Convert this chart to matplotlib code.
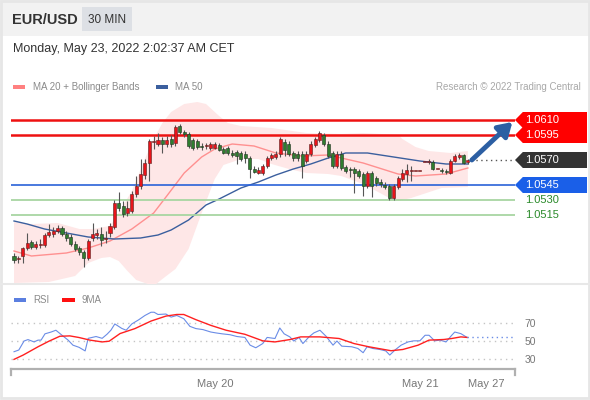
import numpy as np
import matplotlib.pyplot as plt
from matplotlib.patches import Rectangle, Polygon

plt.rcParams['font.family'] = ['Liberation Sans', 'DejaVu Sans']

# EUR/USD 30 min candles, oldest first
opens = [1.0474, 1.0471, 1.0474, 1.0482, 1.0488, 1.0483, 1.0485, 1.0485, 1.0495, 1.0496,
         1.0499, 1.0502, 1.0496, 1.0493, 1.0486, 1.0482, 1.0478, 1.0472, 1.0492, 1.0495,
         1.0496, 1.0491, 1.0497, 1.0503, 1.0527, 1.0524, 1.0517, 1.0519, 1.0536, 1.0544,
         1.0555, 1.0567, 1.0588, 1.0586, 1.0590, 1.0586, 1.0591, 1.0587, 1.0604, 1.0598,
         1.0596, 1.0590, 1.0589, 1.0584, 1.0584, 1.0582, 1.0582, 1.0585, 1.0581, 1.0582,
         1.0577, 1.0578, 1.0577, 1.0576, 1.0572, 1.0561, 1.0557, 1.0557, 1.0564, 1.0572,
         1.0573, 1.0576, 1.0588, 1.0586, 1.0577, 1.0576, 1.0576, 1.0569, 1.0576, 1.0585,
         1.0590, 1.0595, 1.0586, 1.0577, 1.0564, 1.0576, 1.0563, 1.0561, 1.0561, 1.0559,
         1.0556, 1.0544, 1.0557, 1.0552, 1.0548, 1.0545, 1.0544, 1.0532, 1.0543, 1.0551,
         1.0556, 1.0559, 1.0559, 1.0559, 1.0568, 1.0568, 1.0568, 1.0561, 1.0560, 1.0559,
         1.0557, 1.0569, 1.0573, 1.0575, 1.0568]
highs = [1.0477, 1.0474, 1.0483, 1.0497, 1.0490, 1.0489, 1.0491, 1.0497, 1.0506, 1.0503,
         1.0505, 1.0504, 1.0499, 1.0496, 1.0489, 1.0484, 1.0480, 1.0491, 1.0507, 1.0501,
         1.0503, 1.0499, 1.0507, 1.0530, 1.0538, 1.0529, 1.0529, 1.0539, 1.0554, 1.0571,
         1.0571, 1.0591, 1.0594, 1.0597, 1.0593, 1.0594, 1.0595, 1.0605, 1.0606, 1.0600,
         1.0598, 1.0592, 1.0591, 1.0587, 1.0587, 1.0588, 1.0588, 1.0587, 1.0583, 1.0584,
         1.0580, 1.0580, 1.0579, 1.0579, 1.0574, 1.0564, 1.0563, 1.0566, 1.0574, 1.0577,
         1.0579, 1.0593, 1.0591, 1.0589, 1.0579, 1.0579, 1.0579, 1.0579, 1.0589, 1.0593,
         1.0599, 1.0597, 1.0589, 1.0579, 1.0579, 1.0579, 1.0565, 1.0563, 1.0563, 1.0561,
         1.0558, 1.0559, 1.0559, 1.0554, 1.0551, 1.0548, 1.0546, 1.0546, 1.0554, 1.0561,
         1.0566, 1.0564, 1.0559, 1.0559, 1.0568, 1.0571, 1.0570, 1.0561, 1.0562, 1.0561,
         1.0571, 1.0576, 1.0577, 1.0576, 1.0571]
lows = [1.0467, 1.0467, 1.0467, 1.0480, 1.0481, 1.0481, 1.0482, 1.0483, 1.0493, 1.0493,
        1.0497, 1.0494, 1.0489, 1.0484, 1.0479, 1.0475, 1.0463, 1.0470, 1.0489, 1.0491,
        1.0484, 1.0487, 1.0493, 1.0501, 1.0519, 1.0513, 1.0514, 1.0517, 1.0533, 1.0541,
        1.0551, 1.0549, 1.0581, 1.0584, 1.0577, 1.0583, 1.0583, 1.0584, 1.0596, 1.0593,
        1.0582, 1.0580, 1.0581, 1.0580, 1.0581, 1.0580, 1.0581, 1.0579, 1.0576, 1.0575,
        1.0573, 1.0566, 1.0569, 1.0567, 1.0552, 1.0557, 1.0556, 1.0555, 1.0562, 1.0570,
        1.0571, 1.0573, 1.0574, 1.0574, 1.0569, 1.0569, 1.0552, 1.0567, 1.0574, 1.0583,
        1.0588, 1.0584, 1.0572, 1.0562, 1.0562, 1.0560, 1.0557, 1.0553, 1.0537, 1.0552,
        1.0534, 1.0542, 1.0533, 1.0544, 1.0543, 1.0541, 1.0530, 1.0530, 1.0541, 1.0549,
        1.0548, 1.0549, 1.0559, 1.0559, 1.0568, 1.0566, 1.0560, 1.0561, 1.0557, 1.0556,
        1.0556, 1.0568, 1.0571, 1.0566, 1.0566]
closes = [1.0470, 1.0472, 1.0482, 1.0487, 1.0483, 1.0486, 1.0486, 1.0495, 1.0498, 1.0499,
          1.0502, 1.0496, 1.0492, 1.0486, 1.0481, 1.0478, 1.0472, 1.0489, 1.0496, 1.0497,
          1.0490, 1.0492, 1.0504, 1.0527, 1.0522, 1.0516, 1.0522, 1.0536, 1.0544, 1.0556,
          1.0567, 1.0589, 1.0589, 1.0590, 1.0586, 1.0590, 1.0586, 1.0603, 1.0598, 1.0596,
          1.0584, 1.0582, 1.0583, 1.0583, 1.0584, 1.0586, 1.0586, 1.0580, 1.0577, 1.0577,
          1.0575, 1.0574, 1.0571, 1.0572, 1.0561, 1.0558, 1.0560, 1.0564, 1.0572, 1.0575,
          1.0576, 1.0591, 1.0580, 1.0576, 1.0572, 1.0572, 1.0564, 1.0576, 1.0586, 1.0591,
          1.0597, 1.0586, 1.0574, 1.0564, 1.0576, 1.0562, 1.0559, 1.0560, 1.0557, 1.0554,
          1.0544, 1.0557, 1.0544, 1.0547, 1.0546, 1.0543, 1.0532, 1.0544, 1.0552, 1.0557,
          1.0560, 1.0559, 1.0559, 1.0559, 1.0568, 1.0569, 1.0561, 1.0561, 1.0559, 1.0558,
          1.0569, 1.0574, 1.0575, 1.0567, 1.0570]

# moving averages / Bollinger bands, sampled at candle index
ma50_t = [0, 3, 7, 12, 17, 23, 29, 33, 36, 40, 44, 47, 52, 56, 60, 64, 68, 72, 76, 81, 87, 93, 99, 104]
ma50 = [1.0509, 1.0506, 1.0501, 1.0497, 1.0493, 1.0491, 1.0492, 1.0495, 1.0500, 1.0510, 1.0525, 1.0531,
        1.0542, 1.0548, 1.0555, 1.0561, 1.0566, 1.0572, 1.0577, 1.0577, 1.0573, 1.0569, 1.0566, 1.0566]
ma20_t = [0, 4, 12, 17, 22, 27, 32, 35, 39, 43, 46, 50, 55, 60, 66, 72, 80, 88, 92, 99, 104]
ma20 = [1.0479, 1.0474, 1.0477, 1.0482, 1.0489, 1.0501, 1.0517, 1.0534, 1.0557, 1.0573, 1.0581,
        1.0586, 1.0584, 1.0577, 1.0574, 1.0575, 1.0567, 1.0556, 1.0554, 1.0556, 1.0562]
bb_up_t = [0, 4, 10, 15, 18, 22, 24, 27, 30, 32, 34, 36, 39, 42, 44, 47, 49, 52, 59, 67, 75, 80,
           88, 89, 92, 95, 100, 104]
bb_up = [1.0508, 1.0506, 1.0507, 1.0501, 1.0501, 1.0504, 1.0517, 1.0539, 1.0571, 1.0591, 1.0607,
         1.0618, 1.0626, 1.0628, 1.0626, 1.0614, 1.0607, 1.0604, 1.0602, 1.0597, 1.0596, 1.0597,
         1.0595, 1.0591, 1.0583, 1.0579, 1.0577, 1.0579]
bb_lo_t = [0, 8, 14, 17, 20, 22, 24, 26, 28, 32, 34, 37, 40, 43, 46, 48, 52, 56, 59, 63, 67, 72,
           75, 80, 86, 88, 91, 98, 104]
bb_lo = [1.0447, 1.0448, 1.0454, 1.0467, 1.0472, 1.0473, 1.0469, 1.0459, 1.0450, 1.0444, 1.0451,
         1.0461, 1.0481, 1.0517, 1.0551, 1.0565, 1.0571, 1.0571, 1.0566, 1.0561, 1.0557, 1.0556,
         1.0554, 1.0546, 1.0532, 1.0529, 1.0532, 1.0542, 1.0543]

# key levels
resistances = [1.0610, 1.0595]
supports = [1.0545, 1.0530, 1.0515]
last_price = 1.0570

# RSI and its 9MA
rsi_t = [0.0, 1.1, 2.3, 3.2, 4.6, 5.5, 6.2, 7.1, 8.5, 9.6, 11.0, 12.4, 13.5, 14.9, 16.3, 17.0, 18.8,
         20.2, 21.3, 22.2, 23.1, 24.7, 25.7, 27.0, 28.6, 30.0, 31.4, 32.1, 33.0, 34.8, 36.0, 37.3,
         38.9, 40.3, 41.7, 43.3, 45.1, 46.3, 47.7, 49.5, 51.1, 52.9, 54.1, 55.4, 57.0, 58.0, 59.8,
         60.9, 61.9, 63.2, 64.1, 65.3, 66.2, 67.6, 68.7, 70.1, 71.5, 73.1, 74.0, 75.1, 77.4, 78.8,
         80.0, 80.9, 82.2, 83.8, 85.2, 86.1, 87.3, 88.7, 90.3, 91.6, 93.0, 94.2, 95.1, 96.4, 97.6,
         99.0, 100.3, 101.0, 102.4, 103.8]
rsi = [38.1, 40, 50, 51.6, 49, 51, 51, 58, 60, 62, 56.4, 51, 45.4, 43, 39, 53, 55, 53, 57.5, 62,
       69, 64, 62, 69, 73.7, 78.4, 82, 82, 79.5, 80, 76.6, 78.4, 74.8, 66.3, 63.8, 62.7, 60, 59,
       58, 57, 55, 54, 45.4, 42.5, 47.2, 54, 52.8, 64.5, 58, 54.6, 50, 54, 47.2, 54.6, 59, 62,
       55.3, 45.4, 50, 44.3, 43.6, 41.7, 37, 43.6, 41.7, 40.6, 39, 34.4, 40, 45.4, 49, 50.2, 50.2,
       56.4, 56.4, 50.2, 51, 49, 56.4, 60, 58.2, 54]
rsi_ma_t = [0, 2.1, 5.5, 8.0, 10.5, 12.8, 14.9, 17.4, 20.2, 21.8, 24.3, 27.7, 31.4, 34.8, 37.3, 38.9,
            41.7, 45.1, 48.6, 52.9, 57.0, 59.8, 63.2, 65.7, 70.1, 74.5, 77.9, 81.3, 86.4, 89.1, 92.6,
            95.1, 98.5, 100.3, 102.4, 103.8]
rsi_ma = [29.6, 34.4, 43.6, 49.8, 55.3, 55.7, 53.9, 51, 49, 49.8, 58.3, 63.8, 72.2, 77.7, 79.5, 79.5,
          73.7, 67.4, 62, 57.5, 50.2, 49, 51.6, 54.6, 54.6, 52.8, 47.2, 43.6, 39.2, 40.6, 45.4, 51,
          51.7, 52.8, 54.6, 54]
rsi_levels = [70, 50, 30]
date_ticks = [46.1, 93.2, 108.1]
date_labels = ['May 20', 'May 21', 'May 27']

W, H = 590, 400
fig = plt.figure(figsize=(W / 100, H / 100), dpi=100)

def frac(x0, y0, x1, y1):
    return [x0 / W, 1 - y1 / H, (x1 - x0) / W, (y1 - y0) / H]

# background / header
bg = fig.add_axes([0, 0, 1, 1])
bg.set_xlim(0, W)
bg.set_ylim(H, 0)
bg.axis('off')
bg.add_patch(Rectangle((0, 0), W, 36, color='#f2f2f2', lw=0))
bg.add_patch(Rectangle((1, 1), W - 2, H - 3, fill=False, ec='#e6e6e6', lw=2))
bg.add_patch(Rectangle((82, 7), 50, 24, color='#dde0e5', lw=0))
bg.plot([0, W], [284, 284], color='#e8e8e8', lw=1.5)
bg.text(12, 20, 'EUR/USD', fontsize=10.5, fontweight='bold', color='#333333', va='center')
bg.text(107, 20, '30 MIN', fontsize=8.5, color='#333333', va='center', ha='center')
bg.text(13, 49, 'Monday, May 23, 2022 2:02:37 AM CET', fontsize=9, color='#333333', va='center')
bg.add_patch(Rectangle((13, 85), 12, 4, color='#ff8080', lw=0))
bg.text(33, 87, 'MA 20 + Bollinger Bands', fontsize=7, color='#8a8a8a', va='center')
bg.add_patch(Rectangle((156, 85), 12, 4, color='#3b5f9e', lw=0))
bg.text(175, 87, 'MA 50', fontsize=7, color='#8a8a8a', va='center')
bg.text(581, 87, 'Research \u00a9 2022 Trading Central', fontsize=7, color='#a8a8a8',
        va='center', ha='right')
bg.add_patch(Rectangle((14, 298), 12, 4, color='#5b7fe0', lw=0))
bg.text(33, 300, 'RSI', fontsize=7, color='#8a8a8a', va='center')
bg.add_patch(Rectangle((62, 298), 13, 4, color='#ff1010', lw=0))
bg.text(82, 300, '9MA', fontsize=7, color='#8a8a8a', va='center')

# main price panel
ax = fig.add_axes(frac(11, 101, 515, 284))
ax.patch.set_alpha(0)
ax.set_xlim(-0.69, 114.8)
ax.set_ylim(1.0446, 1.0629)
ax.axis('off')

ax.fill(np.r_[bb_up_t, bb_lo_t[::-1]], np.r_[bb_up, bb_lo[::-1]], color='#fee7e7', lw=0, zorder=1)
ax.plot(ma20_t, ma20, color='#ff9090', lw=1, zorder=2)
ax.plot(ma50_t, ma50, color='#3b5f9e', lw=1, zorder=2)

for lv in resistances:
    ax.axhline(lv, color='#ee1111', lw=1.8, zorder=2)
ax.axhline(supports[0], color='#2a62d8', lw=1.2, zorder=2)
for lv in supports[1:]:
    ax.axhline(lv, color='#a8d6a2', lw=1.3, zorder=2)

idx = np.arange(len(closes))
o = np.array(opens)
c = np.array(closes)
up = c >= o
ax.vlines(idx, lows, highs, color='#555555', lw=0.8, zorder=3)
body_lo = np.minimum(o, c)
body_h = np.maximum(np.abs(c - o), 0.00008)
ax.bar(idx[up], body_h[up], bottom=body_lo[up], width=0.7, color='#e8141a',
       edgecolor='#5a2020', lw=0.4, zorder=4)
ax.bar(idx[~up], body_h[~up], bottom=body_lo[~up], width=0.7, color='#2f7d2f',
       edgecolor='#203020', lw=0.4, zorder=4)

ax.plot([idx[-1] + 0.8, 114.8], [last_price, last_price], color='#555555', lw=1,
        ls=(0, (1, 2.5)), zorder=2)
ax.annotate('', xy=(114.2, 1.0608), xytext=(104.9, 1.0570),
            arrowprops=dict(arrowstyle='-|>,head_length=0.8,head_width=0.5',
                            color='#2c5fa3', lw=3.5, shrinkA=0, shrinkB=0), zorder=5)

def tag(price, color):
    x0, x1, h = 114.8, 131.3, 0.0008
    ax.add_patch(Polygon([(x0, price), (x0 + 1.8, price + h), (x1, price + h),
                          (x1, price - h), (x0 + 1.8, price - h)], closed=True,
                         color=color, lw=0, clip_on=False, zorder=5))
    ax.text(117.1, price, f'{price:.4f}', color='white', fontsize=8, va='center',
            clip_on=False, zorder=6)

for lv in resistances:
    tag(lv, '#ff0000')
tag(last_price, '#333333')
tag(supports[0], '#1a5fe8')
for lv in supports[1:]:
    ax.text(117.1, lv, f'{lv:.4f}', color='#2a8a2a', fontsize=8, va='center', clip_on=False)

# RSI panel
ax2 = fig.add_axes(frac(11, 300, 515, 369))
ax2.patch.set_alpha(0)
ax2.set_xlim(-0.69, 114.8)
ax2.set_ylim(18.9, 95.6)
for s in ['top', 'left', 'right']:
    ax2.spines[s].set_visible(False)
ax2.spines['bottom'].set_color('#b0b0b0')
ax2.spines['bottom'].set_linewidth(1.6)
ax2.plot([0, 0], [0, -0.09], transform=ax2.transAxes, color='#b0b0b0', lw=1.6, clip_on=False)
ax2.plot([1, 1], [0, -0.09], transform=ax2.transAxes, color='#b0b0b0', lw=1.6, clip_on=False)
for lv in rsi_levels:
    ax2.axhline(lv, color='#c4c4c4', lw=1, ls=(0, (1, 3)))
ax2.plot(rsi_t, rsi, color='#6a8ce6', lw=0.8)
ax2.plot(rsi_ma_t, rsi_ma, color='#ff2020', lw=1)
ax2.plot([rsi_t[-1], 114.8], [rsi[-1], rsi[-1]], color='#6a8ce6', lw=1, ls=(0, (1, 2.5)))
ax2.yaxis.tick_right()
ax2.set_yticks(rsi_levels)
ax2.set_yticklabels([str(v) for v in rsi_levels])
ax2.tick_params(axis='y', length=0, pad=7, labelsize=7.5, labelcolor='#777777')
ax2.set_xticks(date_ticks)
ax2.set_xticklabels(date_labels)
ax2.tick_params(axis='x', length=0, pad=7, labelsize=8, labelcolor='#777777')

fig.savefig('out.png', dpi=100)
